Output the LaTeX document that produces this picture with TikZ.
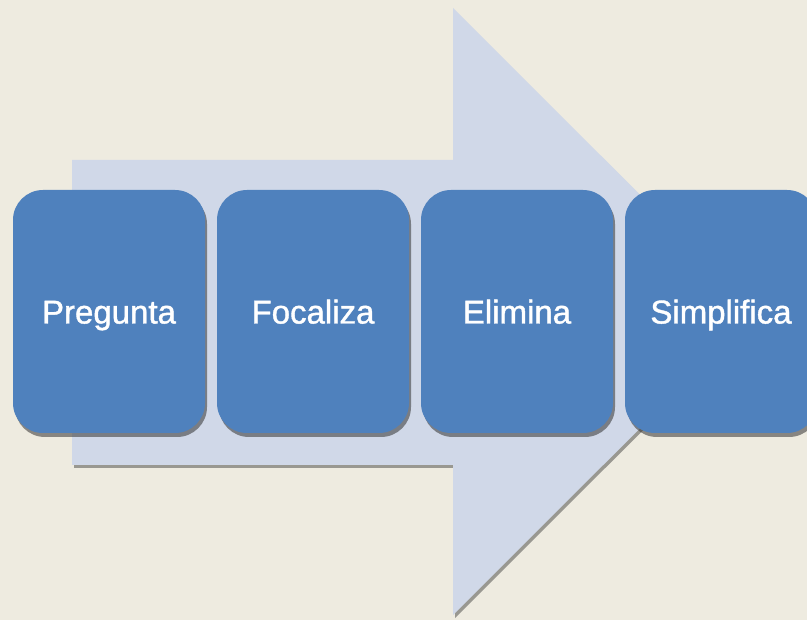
\documentclass[tikz,border=0pt]{standalone}
\usepackage{fontspec}
\setmainfont{Liberation Sans}
\newfontfamily\stagefont[FakeBold=1.2]{Liberation Sans}
\usetikzlibrary{shadows}

\definecolor{paper}{HTML}{EEEBE0}
\definecolor{arrowfill}{HTML}{D0D8E8}
\definecolor{stageblue}{HTML}{4F81BD}

\tikzset{
  stagebox/.style={rectangle, rounded corners=30pt, fill=stageblue,
    minimum width=192pt, minimum height=243pt, inner sep=0pt,
    text height=24pt, text depth=0pt,
    text=white, font=\stagefont\fontsize{33}{40}\selectfont,
    drop shadow={shadow xshift=2pt, shadow yshift=-4pt, opacity=.55, fill=black!80}},
}

\begin{document}
\begin{tikzpicture}[x=1pt,y=-1pt]
        \useasboundingbox (0,0) rectangle (807,620);
        \fill[paper] (0,0) rectangle (807,620);

        % big arrow behind the steps
        \fill[arrowfill, drop shadow={shadow xshift=2pt, shadow yshift=-3pt, opacity=.45, fill=black!80}]
          (72,160) -- (453,160) -- (453,8) -- (757,311.5) -- (453,615) -- (453,465) -- (72,465) -- cycle;

        \node[stagebox] (pregunta) at (109,311.5) {Pregunta};
        \node[stagebox] (focaliza) at (313,311.5) {Focaliza};
        \node[stagebox] (elimina) at (517,311.5) {Elimina};
        \node[stagebox] (simplifica) at (721,311.5) {Simplifica};
    \end{tikzpicture}
\end{document}
